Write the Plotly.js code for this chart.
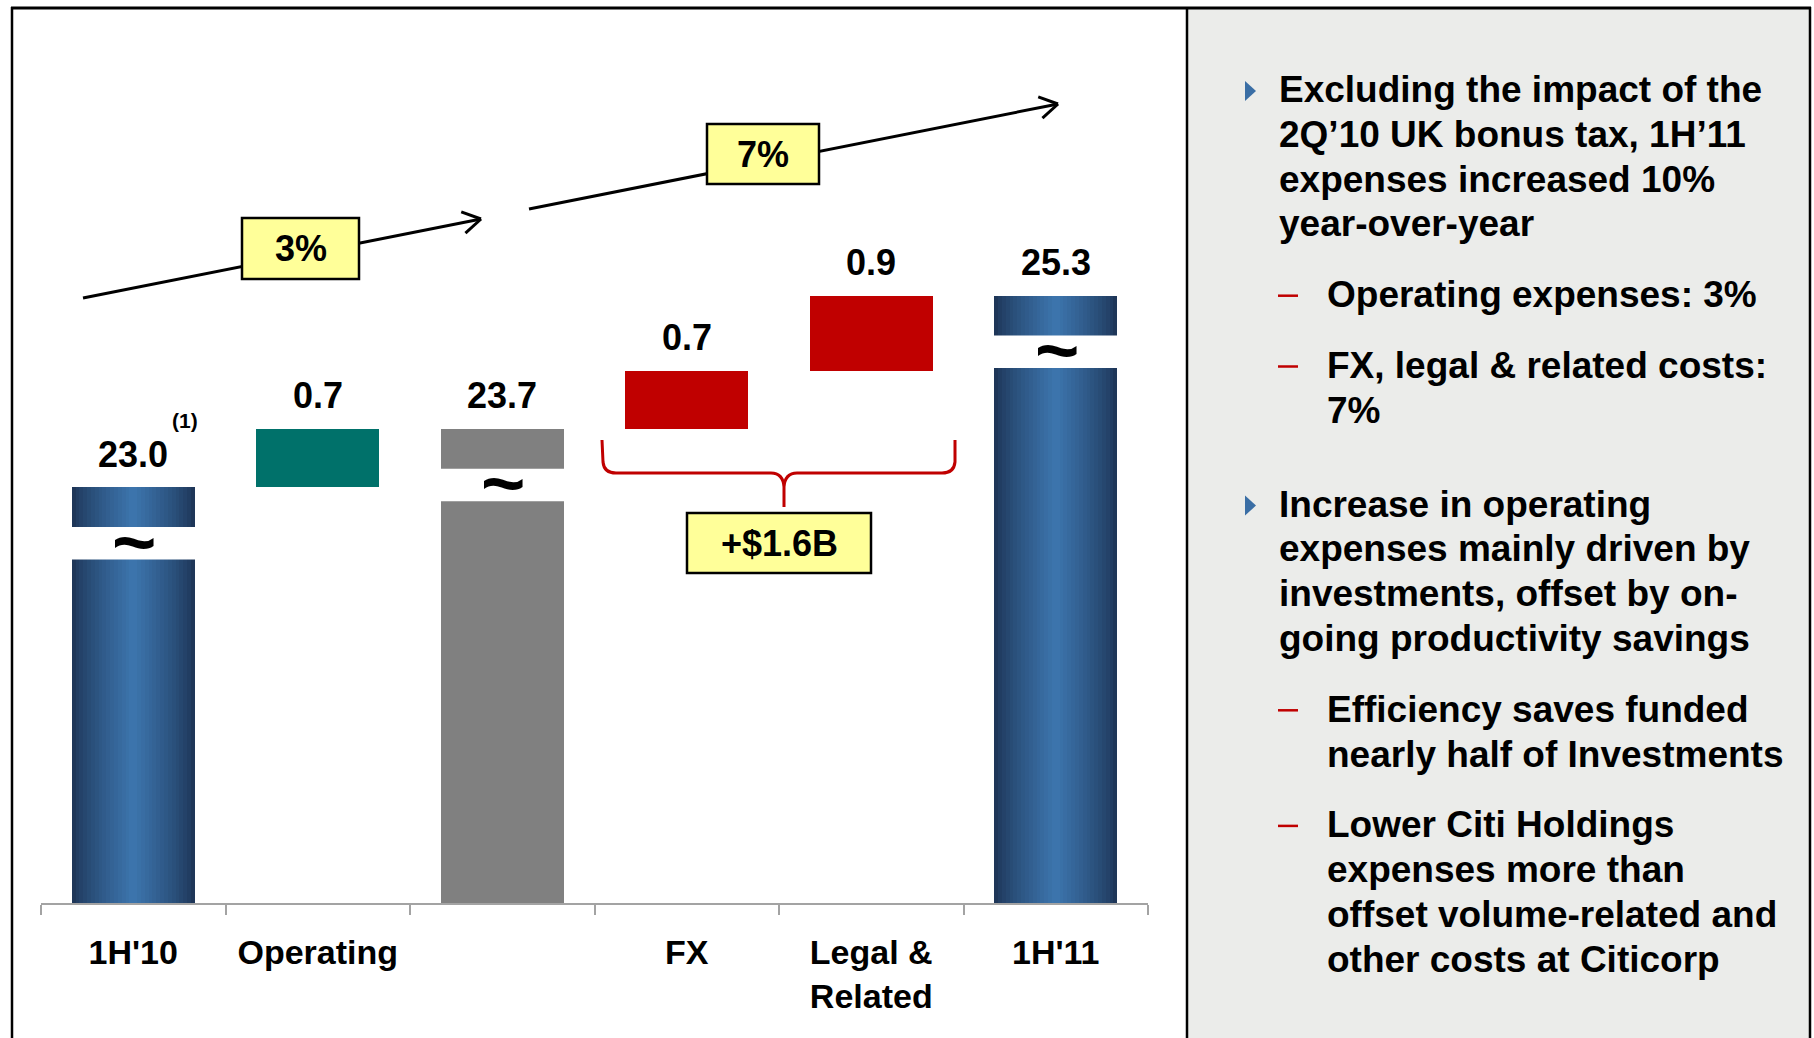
<!DOCTYPE html>
<html>
<head>
<meta charset="utf-8">
<script src="https://cdn.plot.ly/plotly-3.0.1.min.js"></script>
<style>
  html, body { margin: 0; padding: 0; background: #ffffff; }
  #chart { width: 1814px; height: 1038px; }
</style>
</head>
<body>
<div id="chart"></div>
<script>
// ---------------- DATA ----------------
const categories = ["1H'10", "Operating", "Subtotal", "FX", "Legal & Related", "1H'11"];
const tickLabels = ["1H'10", "Operating", "", "FX", "Legal &<br>Related", "1H'11"];
// totals (full bars) and changes (floating bars), in $B
const totalValues  = [23.0, null, 23.7, null, null, 25.3];
const changeValues = [null, 0.7, null, 0.7, 0.9, null];
const totalKinds   = ["blue", null, "gray", null, null, "blue"];
const changeKinds  = [null, "teal", null, "red", "red", null];
const footnoteText = "(1)";
const growthLabels = ["3%", "7%"];
const braceLabel = "+$1.6B";

const panelParagraphs = [
  { level: 1, lines: ["Excluding the impact of the", "2Q\u201910 UK bonus tax, 1H\u201911", "expenses increased 10%", "year-over-year"] },
  { level: 2, lines: ["Operating expenses: 3%"] },
  { level: 2, lines: ["FX, legal & related costs:", "7%"] },
  { level: 1, lines: ["Increase in operating", "expenses mainly driven by", "investments, offset by on-", "going productivity savings"] },
  { level: 2, lines: ["Efficiency saves funded", "nearly half of Investments"] },
  { level: 2, lines: ["Lower Citi Holdings", "expenses more than", "offset volume-related and", "other costs at Citicorp"] }
];

// ---------------- LAYOUT HELPERS ----------------
const W = 1814, H = 1038;
const PX = x => x / W;          // pixel x -> paper
const PY = y => 1 - y / H;      // pixel y -> paper
const FONT = "Liberation Sans, Arial, Helvetica, sans-serif";
const COLORS = { teal: "#00716a", red: "#c00000", gray: "#808080" };
const BLUE_EDGE = [30, 54, 88], BLUE_MID = [60, 116, 172];

const plotTop = 60, plotBottom = 903, pxPerUnit = 83.2, yMin = 18;
const yMax = yMin + (plotBottom - plotTop) / pxPerUnit;
const barWidth = 0.667;

// running totals -> bases for floating bars
const changeBases = [];
let running = 0;
categories.forEach((c, i) => {
  if (totalValues[i] !== null) { running = totalValues[i]; changeBases.push(null); }
  else { changeBases.push(running); running = +(running + changeValues[i]).toFixed(4); }
});

const traces = [];
// gradient blue totals: overlaid bars of decreasing width
const blueIdx = categories.map((c, i) => i).filter(i => totalKinds[i] === "blue");
const N = 16;
for (let k = 0; k < N; k++) {
  const t = k / (N - 1);
  const col = BLUE_EDGE.map((e, j) => Math.round(e + (BLUE_MID[j] - e) * Math.pow(t, 0.8)));
  traces.push({
    type: "bar",
    x: blueIdx.map(i => categories[i]),
    y: blueIdx.map(i => totalValues[i]),
    width: barWidth * (1 - k / N),
    marker: { color: `rgb(${col.join(",")})`, line: { width: 0 } },
    hoverinfo: "skip", showlegend: false
  });
}
// gray subtotal
const grayIdx = categories.map((c, i) => i).filter(i => totalKinds[i] === "gray");
traces.push({
  type: "bar",
  x: grayIdx.map(i => categories[i]),
  y: grayIdx.map(i => totalValues[i]),
  width: barWidth,
  marker: { color: COLORS.gray, line: { width: 0 } },
  hoverinfo: "skip", showlegend: false
});
// floating change bars
const chIdx = categories.map((c, i) => i).filter(i => changeValues[i] !== null);
traces.push({
  type: "bar",
  x: chIdx.map(i => categories[i]),
  y: chIdx.map(i => changeValues[i]),
  base: chIdx.map(i => changeBases[i]),
  width: barWidth,
  marker: { color: chIdx.map(i => COLORS[changeKinds[i]]), line: { width: 0 } },
  hoverinfo: "skip", showlegend: false
});

const shapes = [];
const annotations = [];

// right panel and frame
shapes.push({ type: "rect", xref: "paper", yref: "paper", x0: PX(1187), x1: PX(1810), y0: PY(1040), y1: PY(8), fillcolor: "#ebecea", line: { width: 0 }, layer: "below" });
const frameLine = (x0, y0, x1, y1, w) => shapes.push({ type: "line", xref: "paper", yref: "paper", x0: PX(x0), y0: PY(y0), x1: PX(x1), y1: PY(y1), line: { color: "#000", width: w } });
frameLine(11, 8, 1811, 8, 3);
frameLine(12, 7, 12, 1040, 2.5);
frameLine(1187, 7, 1187, 1040, 2.5);
frameLine(1810, 7, 1810, 1040, 2.5);

// axis breaks on the tall bars
const breakTop = 0.48, breakBottom = 0.87;
categories.forEach((c, i) => {
  if (totalValues[i] === null) return;
  const v = totalValues[i];
  shapes.push({ type: "rect", xref: "x", yref: "y", x0: i - barWidth / 2 - 0.01, x1: i + barWidth / 2 + 0.01,
    y0: v - breakBottom, y1: v - breakTop, fillcolor: "#ffffff", line: { width: 0 }, layer: "above" });
  annotations.push({ xref: "x", yref: "y", x: c, y: v - (breakTop + breakBottom) / 2, text: "~", showarrow: false,
    xanchor: "center", yanchor: "middle", xshift: 1, yshift: 2, font: { family: FONT, size: 76, color: "#000", weight: "bold" } });
});

// value labels
categories.forEach((c, i) => {
  const isTotal = totalValues[i] !== null;
  const top = isTotal ? totalValues[i] : changeBases[i] + changeValues[i];
  const val = isTotal ? totalValues[i] : changeValues[i];
  annotations.push({ xref: "x", yref: "y", x: c, y: top, text: val.toFixed(1), showarrow: false,
    xanchor: "center", yanchor: "middle", yshift: 33, font: { family: FONT, size: 36, color: "#000", weight: "bold" } });
});
annotations.push({ xref: "x", yref: "y", x: categories[0], y: totalValues[0], text: footnoteText, showarrow: false,
  xanchor: "center", yanchor: "middle", xshift: 52, yshift: 67, font: { family: FONT, size: 21, color: "#000", weight: "bold" } });

// growth arrows
function arrow(x0, y0, x1, y1) {
  shapes.push({ type: "line", xref: "paper", yref: "paper", x0: PX(x0), y0: PY(y0), x1: PX(x1), y1: PY(y1), line: { color: "#000", width: 3 } });
  const dx = x1 - x0, dy = y1 - y0, len = Math.hypot(dx, dy);
  const ux = -dx / len, uy = -dy / len, L = 21, a = 31 * Math.PI / 180;
  [a, -a].forEach(th => {
    const wx = ux * Math.cos(th) - uy * Math.sin(th), wy = ux * Math.sin(th) + uy * Math.cos(th);
    shapes.push({ type: "line", xref: "paper", yref: "paper", x0: PX(x1), y0: PY(y1), x1: PX(x1 + wx * L), y1: PY(y1 + wy * L), line: { color: "#000", width: 3 } });
  });
}
arrow(83, 298, 481, 219);
arrow(529, 209, 1058, 104);

function labelBox(x0, y0, x1, y1, text) {
  shapes.push({ type: "rect", xref: "paper", yref: "paper", x0: PX(x0), x1: PX(x1), y0: PY(y1), y1: PY(y0), fillcolor: "#ffff99", line: { color: "#000", width: 2.5 } });
  annotations.push({ xref: "paper", yref: "paper", x: PX((x0 + x1) / 2), y: PY((y0 + y1) / 2), text: text, showarrow: false,
    xanchor: "center", yanchor: "middle", font: { family: FONT, size: 36, color: "#000", weight: "bold" } });
}
labelBox(242, 218, 359, 279, growthLabels[0]);
labelBox(707, 124, 819, 184, growthLabels[1]);

// red brace
const braceCmds = [["M", 602, 440], ["L", 603, 462], ["Q", 604, 473, 616, 473], ["L", 771, 473], ["Q", 783, 473, 784, 487], ["L", 784, 507],
  ["M", 784, 487], ["Q", 785, 473, 797, 473], ["L", 942, 473], ["Q", 954, 473, 955, 462], ["L", 955, 440]];
const bracePath = braceCmds.map(c => c[0] + " " + c.slice(1).reduce((s, v, j) => s + (j % 2 === 0 ? PX(v) : "," + PY(v) + " "), "")).join(" ");
shapes.push({ type: "path", xref: "paper", yref: "paper", path: bracePath, line: { color: COLORS.red, width: 3 } });
labelBox(687, 513, 871, 573, braceLabel);

// right-hand text panel
let yLine = 89.5;
const lineH = 44.8;
panelParagraphs.forEach((p, pi) => {
  if (pi > 0) yLine += lineH + (p.level === 1 ? 49 : 26);
  const textX = p.level === 1 ? 1277 : 1325;
  if (p.level === 1) {
    shapes.push({ type: "path", xref: "paper", yref: "paper",
      path: `M ${PX(1245)},${PY(yLine - 8.5)} L ${PX(1256)},${PY(yLine + 1.5)} L ${PX(1245)},${PY(yLine + 11.5)} Z`,
      fillcolor: "#3a6ea5", line: { width: 0 } });
  } else {
    shapes.push({ type: "line", xref: "paper", yref: "paper", x0: PX(1278), x1: PX(1298), y0: PY(yLine + 1), y1: PY(yLine + 1), line: { color: COLORS.red, width: 2.5 } });
  }
  p.lines.forEach((ln, li) => {
    if (li > 0) yLine += lineH;
    annotations.push({ xref: "paper", yref: "paper", x: PX(textX), y: PY(yLine), text: ln, showarrow: false,
      xanchor: "left", yanchor: "middle", font: { family: FONT, size: 37, color: "#000", weight: "bold" } });
  });
});

const layout = {
  width: W, height: H,
  margin: { l: 0, r: 0, t: 0, b: 0, pad: 0 },
  paper_bgcolor: "#ffffff", plot_bgcolor: "rgba(0,0,0,0)",
  barmode: "overlay", bargap: 0, showlegend: false, hovermode: false,
  font: { family: FONT, color: "#000" },
  xaxis: {
    domain: [PX(41), PX(1148)], type: "category", categoryorder: "array", categoryarray: categories,
    range: [-0.5, categories.length - 0.5],
    tickmode: "array", tickvals: categories, ticktext: tickLabels, tickson: "boundaries",
    ticks: "outside", ticklen: 10, tickwidth: 2, tickcolor: "#a3a3a3",
    showline: true, linecolor: "#a3a3a3", linewidth: 2, showgrid: false, zeroline: false,
    tickfont: { family: FONT, size: 34, color: "#000", weight: "bold" }, ticklabelstandoff: 18, automargin: false
  },
  yaxis: { domain: [PY(plotBottom), PY(plotTop)], range: [yMin, yMax], visible: false, fixedrange: true },
  shapes: shapes, annotations: annotations
};

Plotly.newPlot("chart", traces, layout, { displayModeBar: false, staticPlot: true });
</script>
</body>
</html>
